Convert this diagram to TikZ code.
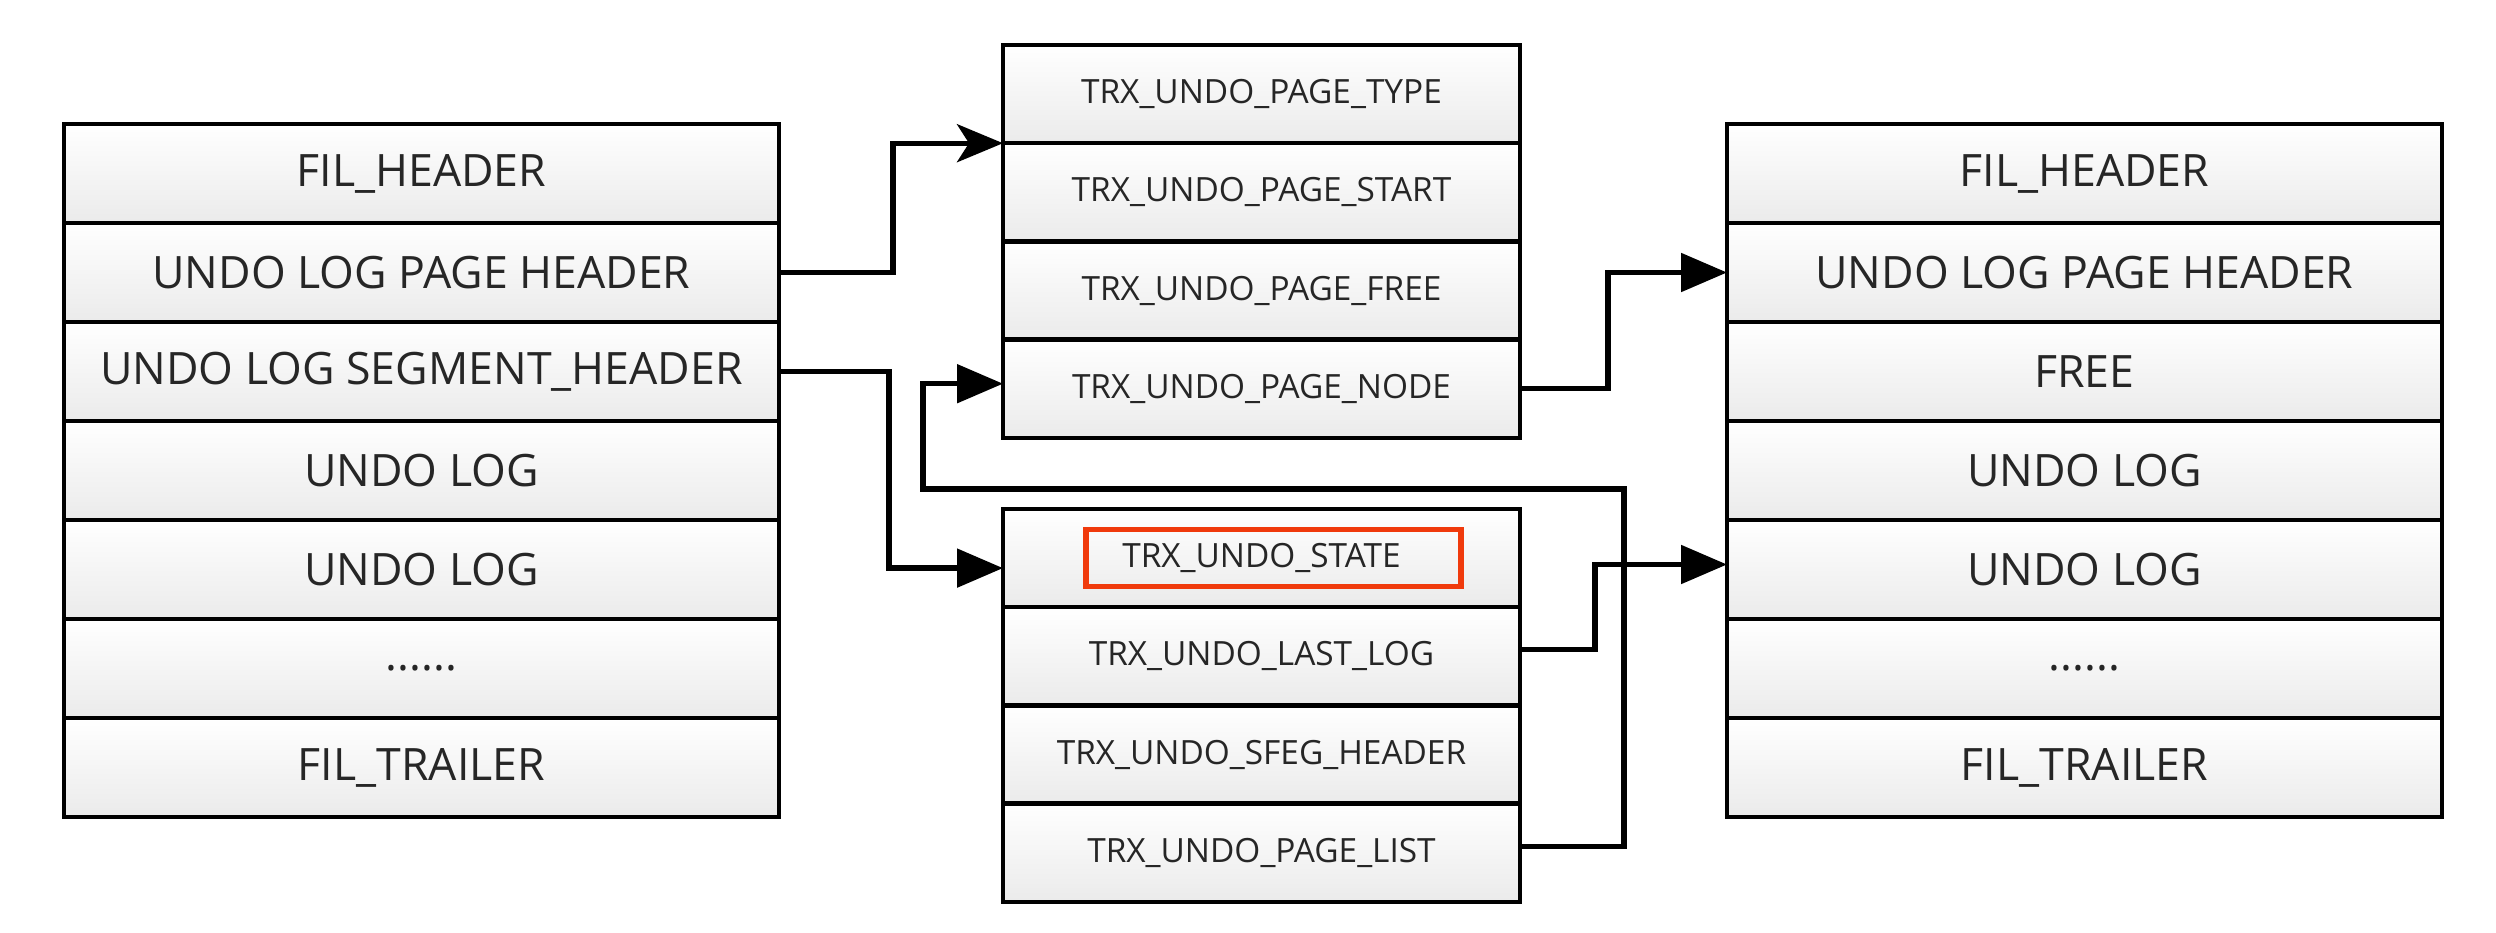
\documentclass[tikz,border=0pt]{standalone}
\usepackage{fontspec}
\setmainfont{Open Sans}
\usetikzlibrary{arrows.meta,positioning}
\definecolor{markred}{RGB}{240,58,12}

\begin{document}
\begin{tikzpicture}[
  cell/.style={draw, line width=1.2pt, outer sep=0pt, inner sep=0pt,
    top color=white, bottom color=gray!16, text=black!85,
    font=\fontsize{12.7}{14}\selectfont,
    minimum width=7.15cm, minimum height=0.99cm},
  field/.style={cell, font=\fontsize{9.5}{11}\selectfont,
    minimum width=5.17cm, minimum height=0.982cm},
  link/.style={line width=1.5pt, -{Triangle[length=0.46cm,width=0.38cm]}}
]
\useasboundingbox (0,0) rectangle (24.96,-9.32);

% undo page (left)
\node[cell, anchor=north west] (l1) at (0.64,-1.24) {FIL\_HEADER};
\node[cell, below=0pt of l1] (l2) {UNDO LOG PAGE HEADER};
\node[cell, below=0pt of l2] (l3) {UNDO LOG SEGMENT\_HEADER};
\node[cell, below=0pt of l3] (l4) {UNDO LOG};
\node[cell, below=0pt of l4] (l5) {UNDO LOG};
\node[cell, below=0pt of l5] (l6) {......};
\node[cell, below=0pt of l6] (l7) {FIL\_TRAILER};

% page header fields
\node[field, anchor=north west] (t1) at (10.03,-0.45) {TRX\_UNDO\_PAGE\_TYPE};
\node[field, below=0pt of t1] (t2) {TRX\_UNDO\_PAGE\_START};
\node[field, below=0pt of t2] (t3) {TRX\_UNDO\_PAGE\_FREE};
\node[field, below=0pt of t3] (t4) {TRX\_UNDO\_PAGE\_NODE};

% segment header fields
\node[field, anchor=north west] (b1) at (10.03,-5.09) {TRX\_UNDO\_STATE};
\node[field, below=0pt of b1] (b2) {TRX\_UNDO\_LAST\_LOG};
\node[field, below=0pt of b2] (b3) {TRX\_UNDO\_SFEG\_HEADER};
\node[field, below=0pt of b3] (b4) {TRX\_UNDO\_PAGE\_LIST};
\node[draw=markred, line width=1.6pt, minimum width=3.75cm, minimum height=0.57cm]
  (mark) at ([xshift=0.12cm]b1.center) {};

% undo page (right)
\node[cell, anchor=north west] (r1) at (17.27,-1.24) {FIL\_HEADER};
\node[cell, below=0pt of r1] (r2) {UNDO LOG PAGE HEADER};
\node[cell, below=0pt of r2] (r3) {FREE};
\node[cell, below=0pt of r3] (r4) {UNDO LOG};
\node[cell, below=0pt of r4] (r5) {UNDO LOG};
\node[cell, below=0pt of r5] (r6) {......};
\node[cell, below=0pt of r6] (r7) {FIL\_TRAILER};

% links
\coordinate (back) at (9.23,-4.89);
\draw[link, -{Stealth[length=0.46cm,width=0.38cm,inset=0.12cm]}]
  (l2.east) -- ++(1.14,0) |- (t1.south west);
\draw[link] (l3.east) -- ++(1.1,0) |- ([yshift=-0.1cm]b1.west);
\draw[link] (t4.east) -- ++(0.88,0) |- (r2.west);
\draw[link] ([yshift=0.07cm]b2.east) -- ++(0.75,0) |- ([yshift=0.05cm]r5.west);
\draw[link] ([yshift=0.06cm]b4.east) -- ++(1.04,0) |- (back) |- ([yshift=0.05cm]t4.west);
\end{tikzpicture}
\end{document}
